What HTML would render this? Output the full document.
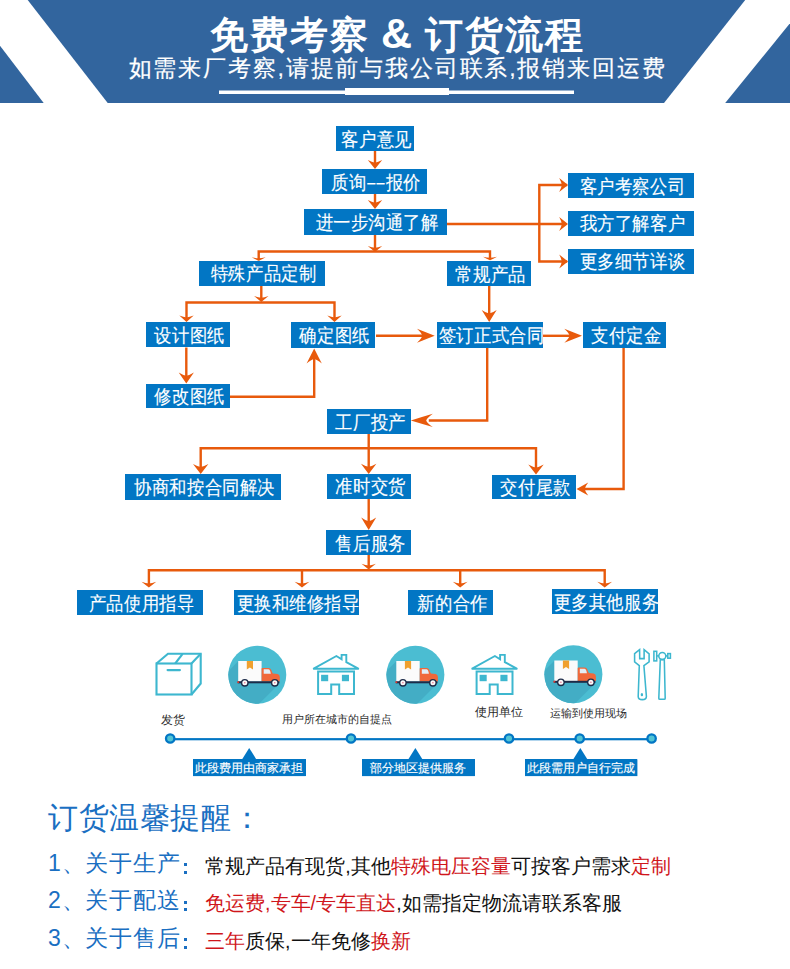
<!DOCTYPE html>
<html><head><meta charset="utf-8"><style>
html,body{margin:0;padding:0;background:#fff;}
body{width:790px;height:969px;position:relative;overflow:hidden;font-family:"Liberation Sans",sans-serif;}
.abs{position:absolute;}
.bx{position:absolute;background:#0276c4;color:#fff;font-size:17px;font-weight:500;-webkit-text-stroke:0.12px #fff;text-align:center;white-space:nowrap;box-sizing:border-box;padding-top:1px}
.bt{display:inline-block;transform:translateX(1.5px) scale(1.03,1.13);transform-origin:50% 50%}
.lbl{position:absolute;font-size:11.5px;color:#2a2a2a;white-space:nowrap;line-height:14px;font-weight:500}
.call{position:absolute;background:#0276c4;color:#fff;font-size:11.6px;font-weight:500;-webkit-text-stroke:0.15px #fff;white-space:nowrap;text-align:center;line-height:18px;height:17px;overflow:visible}
.tip{position:absolute;font-size:23px;color:#1a6fc2;white-space:nowrap;line-height:30px;letter-spacing:0.8px}
.col{font-family:"Liberation Sans",sans-serif;margin-left:4px;font-weight:bold}
.tx{position:absolute;font-size:19.5px;color:#111;white-space:nowrap;letter-spacing:0.03px;line-height:26px}
.r{color:#d0161b}
</style></head><body>
<!-- header -->
<svg class="abs" style="left:0;top:0" width="790" height="104" viewBox="0 0 790 104">
<rect x="0" y="0" width="790" height="103" fill="#32659e"/>
<polygon points="-34.9,0 27.7,0 107.7,103 43.7,103" fill="#fff"/>
<polygon points="745.2,0 808.8,0 725.2,103 664,103" fill="#fff"/>
<rect x="219" y="90.5" width="355" height="3.5" fill="#fff"/>
<rect x="345" y="88" width="104" height="7" fill="#fff"/>
</svg>
<div class="abs" style="left:0;top:9px;width:790px;text-align:center;color:#fff;font-size:37.5px;font-weight:900;line-height:48px;white-space:nowrap;padding-left:5px;letter-spacing:2px;box-sizing:border-box">免费考察 <span style="font-family:&quot;Liberation Sans&quot;,sans-serif;font-weight:bold;font-size:43px;letter-spacing:0;margin-left:-1px;margin-right:1px">&amp;</span> 订货流程</div>
<div class="abs" style="left:0;top:52px;width:790px;text-align:center;color:#fff;font-size:23px;line-height:32px;white-space:nowrap;padding-left:5px;letter-spacing:1.83px;-webkit-text-stroke:0.2px #fff;box-sizing:border-box">如需来厂考察,请提前与我公司联系,报销来回运费</div>
<svg class="abs" style="left:0;top:0" width="790" height="969" viewBox="0 0 790 969">
<line x1="375" y1="151" x2="375" y2="166" stroke="#e85a0c" stroke-width="2.4" stroke-linecap="butt"/><path d="M375.00,169.00 Q371.76,164.95 367.80,160.00 Q372.12,162.29 375.00,162.70 Q377.88,162.29 382.20,160.00 Q378.24,164.95 375.00,169.00Z" fill="#e85a0c"/><line x1="375" y1="194" x2="375" y2="206" stroke="#e85a0c" stroke-width="2.4" stroke-linecap="butt"/><path d="M375.00,209.00 Q371.76,204.95 367.80,200.00 Q372.12,202.29 375.00,202.70 Q377.88,202.29 382.20,200.00 Q378.24,204.95 375.00,209.00Z" fill="#e85a0c"/><line x1="446.5" y1="224" x2="565" y2="224" stroke="#e85a0c" stroke-width="2.4" stroke-linecap="butt"/><path d="M568.00,224.00 Q564.04,220.85 559.20,217.00 Q561.44,221.20 561.84,224.00 Q561.44,226.80 559.20,231.00 Q564.04,227.15 568.00,224.00Z" fill="#e85a0c"/><polyline points="566,185 539.3,185 539.3,261.5 566,261.5" fill="none" stroke="#e85a0c" stroke-width="2.4" stroke-linejoin="miter" stroke-linecap="square"/><path d="M568.00,185.00 Q564.04,181.85 559.20,178.00 Q561.44,182.20 561.84,185.00 Q561.44,187.80 559.20,192.00 Q564.04,188.15 568.00,185.00Z" fill="#e85a0c"/><path d="M568.00,261.50 Q564.04,258.35 559.20,254.50 Q561.44,258.70 561.84,261.50 Q561.44,264.30 559.20,268.50 Q564.04,264.65 568.00,261.50Z" fill="#e85a0c"/><line x1="375" y1="234.5" x2="375" y2="250" stroke="#e85a0c" stroke-width="2.4" stroke-linecap="butt"/><path d="M375.00,252.00 Q371.76,249.30 367.80,246.00 Q372.12,247.53 375.00,247.80 Q377.88,247.53 382.20,246.00 Q378.24,249.30 375.00,252.00Z" fill="#e85a0c"/><polyline points="258.7,259 258.7,251.5 490,251.5 490,258" fill="none" stroke="#e85a0c" stroke-width="2.4" stroke-linejoin="miter" stroke-linecap="square"/><path d="M258.70,260.80 Q255.55,259.18 251.70,257.20 Q255.90,258.12 258.70,258.28 Q261.50,258.12 265.70,257.20 Q261.85,259.18 258.70,260.80Z" fill="#e85a0c"/><path d="M490.00,260.30 Q486.85,258.68 483.00,256.70 Q487.20,257.62 490.00,257.78 Q492.80,257.62 497.00,256.70 Q493.15,258.68 490.00,260.30Z" fill="#e85a0c"/><line x1="261.3" y1="286" x2="261.3" y2="300" stroke="#e85a0c" stroke-width="2.4" stroke-linecap="butt"/><path d="M261.30,302.00 Q258.06,299.30 254.10,296.00 Q258.42,297.53 261.30,297.80 Q264.18,297.53 268.50,296.00 Q264.54,299.30 261.30,302.00Z" fill="#e85a0c"/><polyline points="186.5,318 186.5,302.5 334.5,302.5 334.5,318" fill="none" stroke="#e85a0c" stroke-width="2.4" stroke-linejoin="miter" stroke-linecap="square"/><path d="M186.50,322.00 Q183.26,319.07 179.30,315.50 Q183.62,317.16 186.50,317.45 Q189.38,317.16 193.70,315.50 Q189.74,319.07 186.50,322.00Z" fill="#e85a0c"/><path d="M334.50,322.00 Q331.26,319.07 327.30,315.50 Q331.62,317.16 334.50,317.45 Q337.38,317.16 341.70,315.50 Q337.74,319.07 334.50,322.00Z" fill="#e85a0c"/><line x1="186.3" y1="347.5" x2="186.3" y2="378" stroke="#e85a0c" stroke-width="2.4" stroke-linecap="butt"/><path d="M186.30,383.50 Q182.88,378.55 178.70,372.50 Q183.26,375.31 186.30,375.80 Q189.34,375.31 193.90,372.50 Q189.72,378.55 186.30,383.50Z" fill="#e85a0c"/><polyline points="230,396.7 314.2,396.7 314.2,356" fill="none" stroke="#e85a0c" stroke-width="2.4" stroke-linejoin="miter" stroke-linecap="square"/><path d="M314.20,348.50 Q310.78,355.25 306.60,363.50 Q311.16,359.68 314.20,359.00 Q317.24,359.68 321.80,363.50 Q317.62,355.25 314.20,348.50Z" fill="#e85a0c"/><line x1="376" y1="335.8" x2="425" y2="335.8" stroke="#e85a0c" stroke-width="2.4" stroke-linecap="butt"/><path d="M434.70,335.80 Q426.74,332.65 417.00,328.80 Q421.51,333.00 422.31,335.80 Q421.51,338.60 417.00,342.80 Q426.74,338.95 434.70,335.80Z" fill="#e85a0c"/><line x1="489.2" y1="286" x2="489.2" y2="315" stroke="#e85a0c" stroke-width="2.4" stroke-linecap="butt"/><path d="M489.20,322.00 Q485.82,316.60 481.70,310.00 Q486.20,313.06 489.20,313.60 Q492.20,313.06 496.70,310.00 Q492.57,316.60 489.20,322.00Z" fill="#e85a0c"/><line x1="543" y1="335.8" x2="575" y2="335.8" stroke="#e85a0c" stroke-width="2.4" stroke-linecap="butt"/><path d="M582.00,335.80 Q574.03,332.65 564.30,328.80 Q568.81,333.00 569.61,335.80 Q568.81,338.60 564.30,342.80 Q574.03,338.95 582.00,335.80Z" fill="#e85a0c"/><polyline points="487.2,347.7 487.2,420.5 430,420.5" fill="none" stroke="#e85a0c" stroke-width="2.4" stroke-linejoin="miter" stroke-linecap="square"/><path d="M410.80,420.40 Q420.70,417.43 432.80,413.80 Q427.19,417.76 426.20,420.40 Q427.19,423.04 432.80,427.00 Q420.70,423.37 410.80,420.40Z" fill="#e85a0c"/><polyline points="623.6,347.6 623.6,489 585,489" fill="none" stroke="#e85a0c" stroke-width="2.4" stroke-linejoin="miter" stroke-linecap="square"/><path d="M576.50,489.00 Q581.76,486.03 588.20,482.40 Q585.22,486.36 584.69,489.00 Q585.22,491.64 588.20,495.60 Q581.76,491.97 576.50,489.00Z" fill="#e85a0c"/><line x1="368.7" y1="434" x2="368.7" y2="468" stroke="#e85a0c" stroke-width="2.4" stroke-linecap="butt"/><path d="M368.70,474.00 Q365.24,469.37 361.00,463.70 Q365.62,466.33 368.70,466.79 Q371.78,466.33 376.40,463.70 Q372.16,469.37 368.70,474.00Z" fill="#e85a0c"/><polyline points="200.7,468 200.7,448.2 536,448.2 536,468" fill="none" stroke="#e85a0c" stroke-width="2.4" stroke-linejoin="miter" stroke-linecap="square"/><path d="M200.70,474.00 Q197.23,469.50 193.00,464.00 Q197.62,466.55 200.70,467.00 Q203.78,466.55 208.40,464.00 Q204.16,469.50 200.70,474.00Z" fill="#e85a0c"/><path d="M536.00,474.50 Q532.53,470.00 528.30,464.50 Q532.92,467.05 536.00,467.50 Q539.08,467.05 543.70,464.50 Q539.47,470.00 536.00,474.50Z" fill="#e85a0c"/><line x1="368.7" y1="499" x2="368.7" y2="524" stroke="#e85a0c" stroke-width="2.4" stroke-linecap="butt"/><path d="M368.70,530.00 Q365.32,524.38 361.20,517.50 Q365.70,520.69 368.70,521.25 Q371.70,520.69 376.20,517.50 Q372.07,524.38 368.70,530.00Z" fill="#e85a0c"/><line x1="368.7" y1="555" x2="368.7" y2="566" stroke="#e85a0c" stroke-width="2.4" stroke-linecap="butt"/><path d="M368.70,569.50 Q365.46,566.89 361.50,563.70 Q365.82,565.18 368.70,565.44 Q371.58,565.18 375.90,563.70 Q371.94,566.89 368.70,569.50Z" fill="#e85a0c"/><polyline points="148.9,584 148.9,570.3 604.7,570.3 604.7,584" fill="none" stroke="#e85a0c" stroke-width="2.4" stroke-linejoin="miter" stroke-linecap="square"/><path d="M148.90,587.50 Q145.57,584.89 141.50,581.70 Q145.94,583.18 148.90,583.44 Q151.86,583.18 156.30,581.70 Q152.23,584.89 148.90,587.50Z" fill="#e85a0c"/><line x1="302" y1="570.3" x2="302" y2="584" stroke="#e85a0c" stroke-width="2.4" stroke-linecap="butt"/><path d="M302.00,587.50 Q298.67,584.89 294.60,581.70 Q299.04,583.18 302.00,583.44 Q304.96,583.18 309.40,581.70 Q305.33,584.89 302.00,587.50Z" fill="#e85a0c"/><line x1="460.2" y1="570.3" x2="460.2" y2="584" stroke="#e85a0c" stroke-width="2.4" stroke-linecap="butt"/><path d="M460.20,587.50 Q456.87,584.89 452.80,581.70 Q457.24,583.18 460.20,583.44 Q463.16,583.18 467.60,581.70 Q463.53,584.89 460.20,587.50Z" fill="#e85a0c"/><path d="M604.70,587.50 Q601.37,584.89 597.30,581.70 Q601.74,583.18 604.70,583.44 Q607.66,583.18 612.10,581.70 Q608.03,584.89 604.70,587.50Z" fill="#e85a0c"/>
</svg>
<div class="bx" style="left:336.0px;top:125.5px;width:77.5px;height:25.5px;line-height:25.5px"><span class="bt">客户意见</span></div><div class="bx" style="left:322.0px;top:169.0px;width:105.3px;height:25.0px;line-height:25.0px"><span class="bt">质询<span style="font-family:&quot;Liberation Sans&quot;,sans-serif;font-size:14px;letter-spacing:1.2px;margin-left:1px;vertical-align:1px">––</span>报价</span></div><div class="bx" style="left:304.0px;top:209.0px;width:142.5px;height:25.5px;line-height:25.5px"><span class="bt">进一步沟通了解</span></div><div class="bx" style="left:568.0px;top:173.0px;width:126.0px;height:25.0px;line-height:25.0px"><span class="bt">客户考察公司</span></div><div class="bx" style="left:568.0px;top:211.0px;width:126.0px;height:24.6px;line-height:24.6px"><span class="bt">我方了解客户</span></div><div class="bx" style="left:568.0px;top:249.3px;width:126.0px;height:24.7px;line-height:24.7px"><span class="bt">更多细节详谈</span></div><div class="bx" style="left:199.0px;top:260.8px;width:126.3px;height:24.9px;line-height:24.9px"><span class="bt">特殊产品定制</span></div><div class="bx" style="left:447.3px;top:260.8px;width:83.7px;height:25.0px;line-height:25.0px"><span class="bt">常规产品</span></div><div class="bx" style="left:145.8px;top:322.0px;width:84.0px;height:25.3px;line-height:25.3px"><span class="bt">设计图纸</span></div><div class="bx" style="left:290.5px;top:322.4px;width:84.5px;height:25.2px;line-height:25.2px"><span class="bt">确定图纸</span></div><div class="bx" style="left:436.5px;top:322.4px;width:106.5px;height:25.2px;line-height:25.2px"><span class="bt">签订正式合同</span></div><div class="bx" style="left:583.3px;top:322.3px;width:82.7px;height:25.3px;line-height:25.3px"><span class="bt">支付定金</span></div><div class="bx" style="left:146.0px;top:383.6px;width:84.0px;height:24.9px;line-height:24.9px"><span class="bt">修改图纸</span></div><div class="bx" style="left:326.6px;top:408.7px;width:84.0px;height:25.3px;line-height:25.3px"><span class="bt">工厂投产</span></div><div class="bx" style="left:125.0px;top:474.0px;width:156.2px;height:25.7px;line-height:25.7px"><span class="bt">协商和按合同解决</span></div><div class="bx" style="left:326.6px;top:474.3px;width:84.0px;height:24.9px;line-height:24.9px"><span class="bt">准时交货</span></div><div class="bx" style="left:492.1px;top:474.5px;width:84.3px;height:24.8px;line-height:24.8px"><span class="bt">交付尾款</span></div><div class="bx" style="left:326.3px;top:529.8px;width:84.7px;height:25.4px;line-height:25.4px"><span class="bt">售后服务</span></div><div class="bx" style="left:77.3px;top:589.9px;width:125.7px;height:25.0px;line-height:25.0px"><span class="bt">产品使用指导</span></div><div class="bx" style="left:234.4px;top:589.9px;width:125.0px;height:25.1px;line-height:25.1px"><span class="bt">更换和维修指导</span></div><div class="bx" style="left:408.2px;top:590.0px;width:84.8px;height:25.0px;line-height:25.0px"><span class="bt">新的合作</span></div><div class="bx" style="left:551.6px;top:589.2px;width:106.7px;height:25.0px;line-height:25.0px"><span class="bt">更多其他服务</span></div>
<!-- icons row placeholder -->
<svg class="abs" style="left:0;top:0" width="790" height="969" viewBox="0 0 790 969"><rect x="156.5" y="663.5" width="35" height="31" fill="none" stroke="#3db7cf" stroke-width="2.1"/><polyline points="156.5,663.5 168,653.8 200.7,653.8 200.7,683.5 191.5,694.5" fill="none" stroke="#3db7cf" stroke-width="2.1" stroke-linejoin="miter"/><line x1="191.5" y1="663.5" x2="200.7" y2="653.8" stroke="#3db7cf" stroke-width="2.1"/><line x1="175.2" y1="663.5" x2="182.6" y2="653.8" stroke="#3db7cf" stroke-width="2.1"/><line x1="167.6" y1="670.1" x2="179.9" y2="670.1" stroke="#3db7cf" stroke-width="2.2" stroke-linecap="round"/><clipPath id="c1"><circle cx="257.3" cy="674.8" r="29"/></clipPath><circle cx="257.3" cy="674.8" r="29" fill="#4bbdd2"/><polygon clip-path="url(#c1)" points="238.20,661.20 198.20,701.20 240.20,722.70 280.20,682.70" fill="#43adc5"/><rect x="238.20" y="661.00" width="23.4" height="20.5" fill="#fbfbfb"/><polygon points="246.80,661.00 253.00,661.00 253.00,669.60 249.90,667.60 246.80,669.60" fill="#f0a02e"/><path d="M261.60,681.50 L261.60,668.50 Q261.60,668.00 262.50,668.00 L268.50,668.00 Q271.00,668.00 272.00,672.00 L272.80,673.60 L277.50,674.00 Q279.80,674.50 279.80,677.00 L279.80,681.50 Z" fill="#f0683a"/><path d="M263.70,673.70 L263.70,669.30 L268.40,669.30 Q270.20,669.50 270.80,673.70 Z" fill="#e3eef6"/><rect x="237.80" y="681.30" width="41.5" height="2" fill="#1d2b48"/><rect x="237.30" y="681.30" width="1.8" height="1.8" fill="#e0382e"/><circle cx="244.80" cy="682.80" r="3.9" fill="#1d2b48"/><circle cx="244.80" cy="682.80" r="2.5" fill="#fafafa"/><circle cx="244.80" cy="682.80" r="0.8" fill="#e8708a"/><circle cx="274.80" cy="682.80" r="3.9" fill="#1d2b48"/><circle cx="274.80" cy="682.80" r="2.5" fill="#fafafa"/><circle cx="274.80" cy="682.80" r="0.8" fill="#e8708a"/><path d="M313.20,668.80 L336.40,656.00 L341.60,659.20 L341.60,654.90 L346.30,654.90 L346.30,662.20 L358.80,668.80 Z" fill="none" stroke="#3db7cf" stroke-width="1.9" stroke-linejoin="miter"/><path d="M331.20,694.00 L331.20,684.60 L339.20,684.60 L339.20,694.00 L354.00,694.00 L354.00,671.40 L318.10,671.40 L318.10,694.00 Z" fill="none" stroke="#3db7cf" stroke-width="2"/><rect x="321.10" y="674.8" width="7.1" height="6.4" fill="#3db7cf"/><rect x="341.90" y="674.8" width="7.1" height="6.4" fill="#3db7cf"/><clipPath id="c2"><circle cx="415.4" cy="674.8" r="29"/></clipPath><circle cx="415.4" cy="674.8" r="29" fill="#4bbdd2"/><polygon clip-path="url(#c2)" points="396.30,661.20 356.30,701.20 398.30,722.70 438.30,682.70" fill="#43adc5"/><rect x="396.30" y="661.00" width="23.4" height="20.5" fill="#fbfbfb"/><polygon points="404.90,661.00 411.10,661.00 411.10,669.60 408.00,667.60 404.90,669.60" fill="#f0a02e"/><path d="M419.70,681.50 L419.70,668.50 Q419.70,668.00 420.60,668.00 L426.60,668.00 Q429.10,668.00 430.10,672.00 L430.90,673.60 L435.60,674.00 Q437.90,674.50 437.90,677.00 L437.90,681.50 Z" fill="#f0683a"/><path d="M421.80,673.70 L421.80,669.30 L426.50,669.30 Q428.30,669.50 428.90,673.70 Z" fill="#e3eef6"/><rect x="395.90" y="681.30" width="41.5" height="2" fill="#1d2b48"/><rect x="395.40" y="681.30" width="1.8" height="1.8" fill="#e0382e"/><circle cx="402.90" cy="682.80" r="3.9" fill="#1d2b48"/><circle cx="402.90" cy="682.80" r="2.5" fill="#fafafa"/><circle cx="402.90" cy="682.80" r="0.8" fill="#e8708a"/><circle cx="432.90" cy="682.80" r="3.9" fill="#1d2b48"/><circle cx="432.90" cy="682.80" r="2.5" fill="#fafafa"/><circle cx="432.90" cy="682.80" r="0.8" fill="#e8708a"/><path d="M471.70,668.80 L494.90,656.00 L500.10,659.20 L500.10,654.90 L504.80,654.90 L504.80,662.20 L517.30,668.80 Z" fill="none" stroke="#3db7cf" stroke-width="1.9" stroke-linejoin="miter"/><path d="M489.70,694.00 L489.70,684.60 L497.70,684.60 L497.70,694.00 L512.50,694.00 L512.50,671.40 L476.60,671.40 L476.60,694.00 Z" fill="none" stroke="#3db7cf" stroke-width="2"/><rect x="479.60" y="674.8" width="7.1" height="6.4" fill="#3db7cf"/><rect x="500.40" y="674.8" width="7.1" height="6.4" fill="#3db7cf"/><clipPath id="c3"><circle cx="573.4" cy="674.3" r="29"/></clipPath><circle cx="573.4" cy="674.3" r="29" fill="#4bbdd2"/><polygon clip-path="url(#c3)" points="554.30,660.70 514.30,700.70 556.30,722.20 596.30,682.20" fill="#43adc5"/><rect x="554.30" y="660.50" width="23.4" height="20.5" fill="#fbfbfb"/><polygon points="562.90,660.50 569.10,660.50 569.10,669.10 566.00,667.10 562.90,669.10" fill="#f0a02e"/><path d="M577.70,681.00 L577.70,668.00 Q577.70,667.50 578.60,667.50 L584.60,667.50 Q587.10,667.50 588.10,671.50 L588.90,673.10 L593.60,673.50 Q595.90,674.00 595.90,676.50 L595.90,681.00 Z" fill="#f0683a"/><path d="M579.80,673.20 L579.80,668.80 L584.50,668.80 Q586.30,669.00 586.90,673.20 Z" fill="#e3eef6"/><rect x="553.90" y="680.80" width="41.5" height="2" fill="#1d2b48"/><rect x="553.40" y="680.80" width="1.8" height="1.8" fill="#e0382e"/><circle cx="560.90" cy="682.30" r="3.9" fill="#1d2b48"/><circle cx="560.90" cy="682.30" r="2.5" fill="#fafafa"/><circle cx="560.90" cy="682.30" r="0.8" fill="#e8708a"/><circle cx="590.90" cy="682.30" r="3.9" fill="#1d2b48"/><circle cx="590.90" cy="682.30" r="2.5" fill="#fafafa"/><circle cx="590.90" cy="682.30" r="0.8" fill="#e8708a"/><path d="M639.6,649.6 L634.6,653.6 L634.6,661.8 L639.3,665.6 L638.2,696.5 Q638.2,699.6 642.3,699.6 Q646.4,699.6 646.4,696.5 L643.9,665.6 L649.1,661.8 L649.1,653.8 L644.1,649.6 L644.1,658.6 L639.7,658.6 Z" fill="none" stroke="#3db7cf" stroke-width="1.55" stroke-linejoin="miter"/><ellipse cx="641.9" cy="694.7" rx="1.2" ry="1.6" fill="#3db7cf"/><rect x="653.9" y="651.3" width="2.8" height="9.6" fill="none" stroke="#3db7cf" stroke-width="1.55"/><circle cx="662.3" cy="655.9" r="3.5" fill="none" stroke="#3db7cf" stroke-width="1.55"/><line x1="656.7" y1="655.9" x2="658.8" y2="655.9" stroke="#3db7cf" stroke-width="1.55"/><rect x="667.8" y="653.6" width="2.6" height="4.6" fill="none" stroke="#3db7cf" stroke-width="1.55"/><line x1="665.8" y1="655.9" x2="667.8" y2="655.9" stroke="#3db7cf" stroke-width="1.55"/><path d="M660.3,659.6 L664.3,659.6 L665.2,698.2 Q665.2,699.3 664.2,699.3 L659.8,699.3 Q658.8,699.3 658.8,698.2 Z" fill="none" stroke="#3db7cf" stroke-width="1.55" stroke-linejoin="round"/><rect x="170" y="738.1" width="482" height="2.2" fill="#0276c4"/><circle cx="170.2" cy="738.5" r="4.2" fill="#52c4d4" stroke="#0276c4" stroke-width="2.3"/><circle cx="351" cy="738.5" r="4.2" fill="#52c4d4" stroke="#0276c4" stroke-width="2.3"/><circle cx="509" cy="738.5" r="4.2" fill="#52c4d4" stroke="#0276c4" stroke-width="2.3"/><circle cx="579.7" cy="738.5" r="4.2" fill="#52c4d4" stroke="#0276c4" stroke-width="2.3"/><circle cx="651.6" cy="738.5" r="4.2" fill="#52c4d4" stroke="#0276c4" stroke-width="2.3"/><rect x="193" y="759.3" width="112.5" height="16.8" fill="#0276c4"/><polygon points="242.0,759.5 249.2,748 256.4,759.5" fill="#0276c4"/><rect x="362" y="759.3" width="112.69999999999999" height="16.8" fill="#0276c4"/><polygon points="408.2,759.5 415.4,748 422.59999999999997,759.5" fill="#0276c4"/><rect x="525" y="759.3" width="112.39999999999998" height="16.8" fill="#0276c4"/><polygon points="573.0999999999999,759.5 580.3,748 587.5,759.5" fill="#0276c4"/></svg>
<div class="lbl" style="left:161px;top:713px">发货</div>
<div class="lbl" style="left:282px;top:712px;font-size:11.2px">用户所在城市的自提点</div>
<div class="lbl" style="left:475px;top:705px">使用单位</div>
<div class="lbl" style="left:549.5px;top:706px;font-size:11.15px">运输到使用现场</div>
<div class="call" style="left:193px;top:759.3px;width:112.5px">此段费用由商家承担</div>
<div class="call" style="left:362px;top:759.3px;width:112.7px">部分地区提供服务</div>
<div class="call" style="left:525px;top:759.3px;width:112.4px">此段需用户自行完成</div>

<!-- tips -->
<div class="tip" style="left:48px;top:800px;font-size:30.3px;line-height:36px;letter-spacing:0.6px">订货温馨提醒：</div>
<div class="tip" style="left:48px;top:848px">1、关于生产</div>
<div class="tx" style="left:205px;top:853px">常规产品有现货,其他<span class="r">特殊电压容量</span>可按客户需求<span class="r">定制</span></div>
<div class="tip" style="left:48px;top:885px">2、关于配送</div>
<div class="tx" style="left:205px;top:890px"><span class="r">免运费,专车/专车直达</span>,如需指定物流请联系客服</div>
<div class="tip" style="left:48px;top:923px">3、关于售后</div>
<div class="tx" style="left:205px;top:928px"><span class="r">三年</span>质保,一年免修<span class="r">换新</span></div>
<div class="abs" style="left:184.1px;top:863.2px;width:3.1px;height:3.1px;background:#1a6fc2"></div><div class="abs" style="left:184.1px;top:870.7px;width:3.1px;height:3px;background:#1a6fc2"></div>
<div class="abs" style="left:184.1px;top:900.6px;width:3.1px;height:3.1px;background:#1a6fc2"></div><div class="abs" style="left:184.1px;top:908.1px;width:3.1px;height:3px;background:#1a6fc2"></div>
<div class="abs" style="left:184.1px;top:938.0px;width:3.1px;height:3.1px;background:#1a6fc2"></div><div class="abs" style="left:184.1px;top:945.5px;width:3.1px;height:3px;background:#1a6fc2"></div>
</body></html>
